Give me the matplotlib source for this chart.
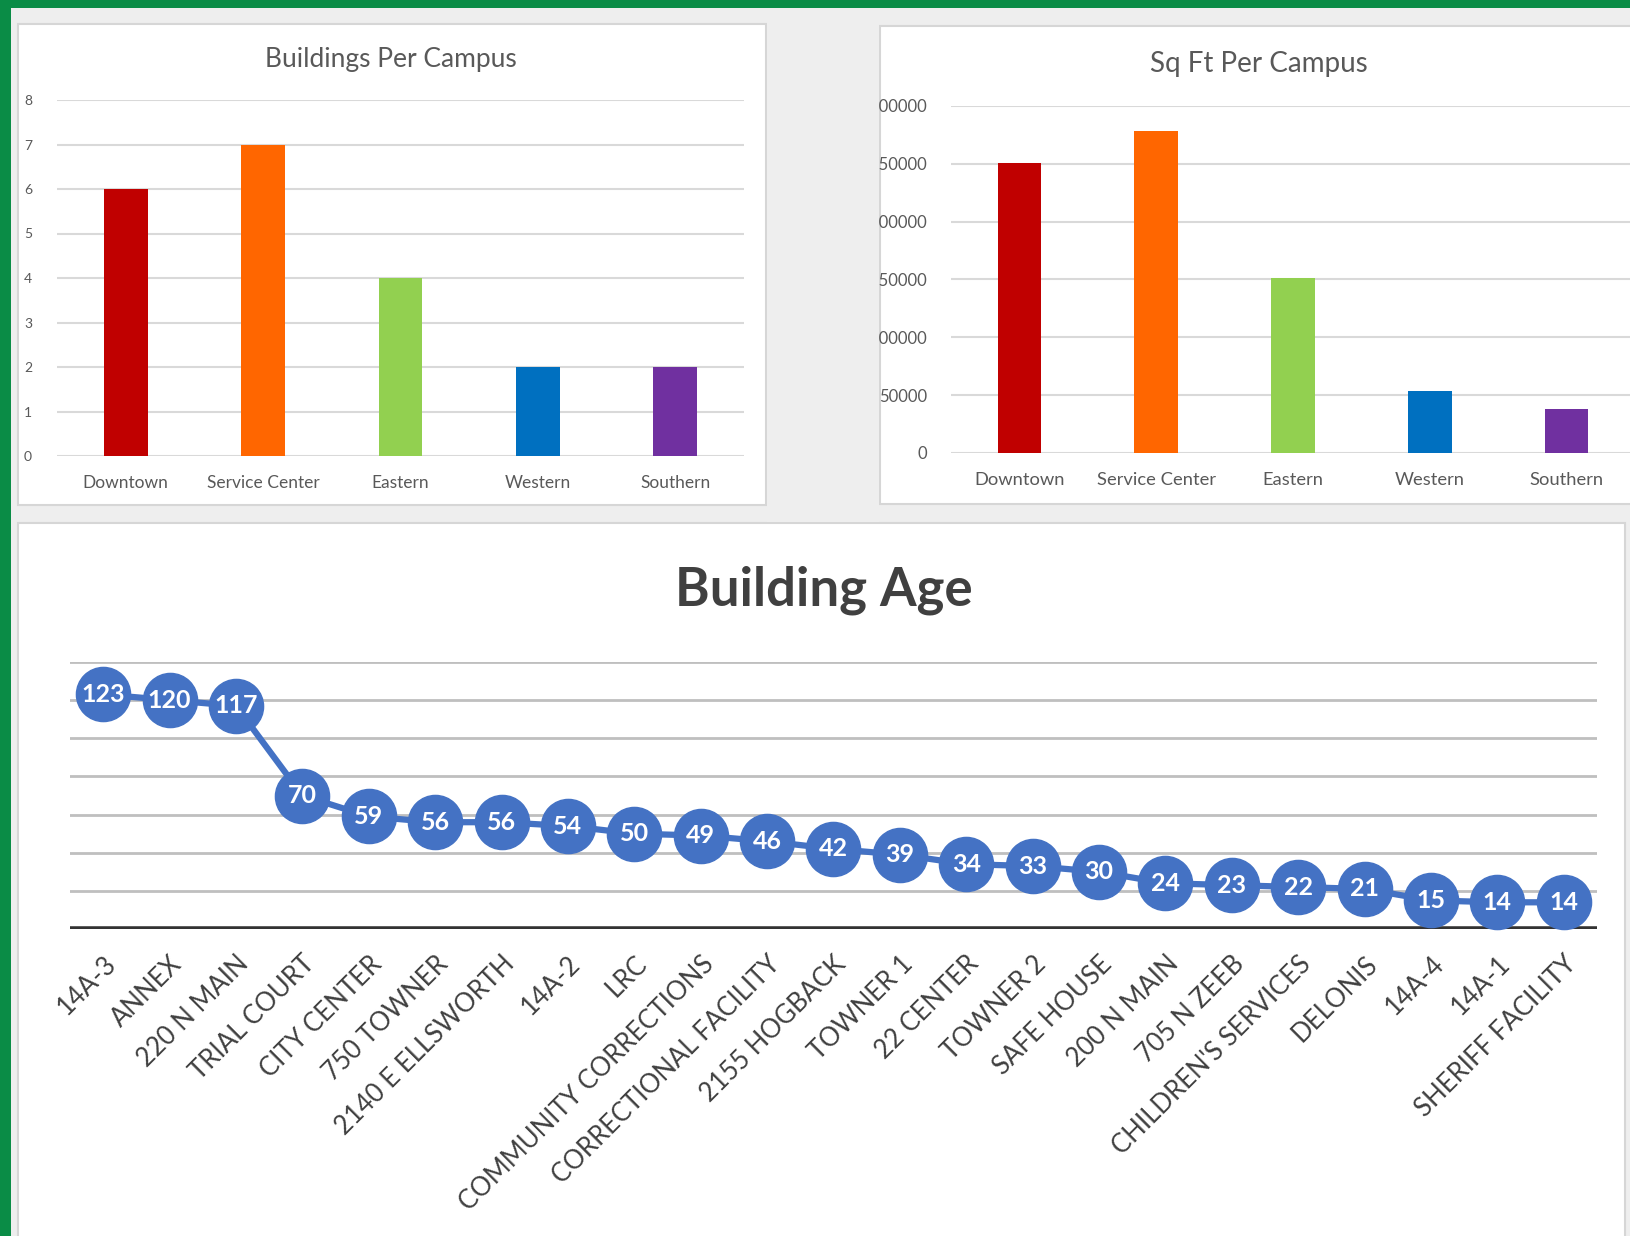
import matplotlib.pyplot as plt
from matplotlib.patches import Rectangle

campuses = ['Downtown', 'Service Center', 'Eastern', 'Western', 'Southern']
buildings_per_campus = [6, 7, 4, 2, 2]
sqft_per_campus = [251000, 278000, 151000, 54000, 38000]
campus_colors = ['#C00000', '#FF6600', '#92D050', '#0070C0', '#7030A0']

buildings = ['14A-3', 'ANNEX', '220 N MAIN', 'TRIAL COURT', 'CITY CENTER',
             '750 TOWNER', '2140 E ELLSWORTH', '14A-2', 'LRC',
             'COMMUNITY CORRECTIONS', 'CORRECTIONAL FACILITY', '2155 HOGBACK',
             'TOWNER 1', '22 CENTER', 'TOWNER 2', 'SAFE HOUSE', '200 N MAIN',
             '705 N ZEEB', "CHILDREN'S SERVICES", 'DELONIS', '14A-4', '14A-1',
             'SHERIFF FACILITY']
ages = [123, 120, 117, 70, 59, 56, 56, 54, 50, 49, 46, 42, 39, 34, 33, 30,
        24, 23, 22, 21, 15, 14, 14]

plt.rcParams['font.family'] = ['Lato', 'DejaVu Sans']

W, H = 1630, 1236
fig = plt.figure(figsize=(W / 100, H / 100), dpi=100)
fig.patch.set_facecolor('#EEEEEE')


def box(x0, y0, x1, y1):
    # pixel box (top-left origin) -> figure fraction rect
    return [x0 / W, 1 - y1 / H, (x1 - x0) / W, (y1 - y0) / H]


def panel(x0, y0, x1, y1, z=0.5):
    r = Rectangle((x0 / W, 1 - y1 / H), (x1 - x0) / W, (y1 - y0) / H,
                  transform=fig.transFigure, facecolor='white',
                  edgecolor='#D6D6D6', linewidth=1.5, zorder=z)
    fig.add_artist(r)


def figrect(x0, y0, x1, y1, color, z):
    r = Rectangle((x0 / W, 1 - y1 / H), (x1 - x0) / W, (y1 - y0) / H,
                  transform=fig.transFigure, facecolor=color,
                  edgecolor='none', zorder=z)
    fig.add_artist(r)


panel(18, 24, 766, 505, z=-2)
panel(880, 26, 1645, 504, z=-2)
panel(18, 523, 1625, 1245, z=-2)

grid_col = '#D9D9D9'
txt_col = '#595959'

# buildings per campus
ax1 = fig.add_axes(box(57, 100, 744, 456))
ax1.patch.set_alpha(0)
ax1.bar(range(len(campuses)), buildings_per_campus, width=0.32,
        color=campus_colors, zorder=3)
ax1.set_xlim(-0.5, len(campuses) - 0.5)
ax1.set_ylim(0, 8)
ax1.set_yticks(range(0, 9))
ax1.set_xticks(range(len(campuses)))
ax1.set_xticklabels(campuses)
ax1.grid(axis='y', color=grid_col, linewidth=1.5, zorder=0)
for s in ax1.spines.values():
    s.set_visible(False)
ax1.tick_params(length=0, colors=txt_col, labelsize=12.5)
ax1.tick_params(axis='y', pad=18, labelsize=10)
ax1.tick_params(axis='x', pad=14)
fig.text(391 / W, 1 - 60 / H, 'Buildings Per Campus', ha='center',
         va='center', fontsize=19, color=txt_col)

# square feet per campus
ax2 = fig.add_axes(box(951, 106, 1635, 453))
ax2.patch.set_alpha(0)
ax2.bar(range(len(campuses)), sqft_per_campus, width=0.32,
        color=campus_colors, zorder=3)
ax2.set_xlim(-0.5, len(campuses) - 0.5)
ax2.set_ylim(0, 300000)
ax2.set_yticks(range(0, 300001, 50000))
ax2.set_yticklabels([str(v) for v in range(0, 300001, 50000)])
ax2.set_xticks(range(len(campuses)))
ax2.set_xticklabels(campuses)
ax2.grid(axis='y', color=grid_col, linewidth=1.5, zorder=0)
for s in ax2.spines.values():
    s.set_visible(False)
ax2.tick_params(axis='y', length=0, colors=txt_col, labelsize=12, pad=17)
ax2.tick_params(axis='x', length=0, colors=txt_col, labelsize=13.2, pad=14)
fig.text(1259 / W, 1 - 64 / H, 'Sq Ft Per Campus', ha='center',
         va='center', fontsize=20, color=txt_col)

# gap between the two top panels hides the cut-off axis labels
figrect(767, 10, 879, 522, '#EEEEEE', 5)

# building age line chart
ax3 = fig.add_axes(box(70, 662, 1597, 929))
ax3.patch.set_alpha(0)
x = range(len(buildings))
ax3.plot(x, ages, color='#4472C4', linewidth=4.5, marker='o', markersize=39,
         markerfacecolor='#4472C4', markeredgecolor='#4472C4',
         clip_on=False, zorder=4)
for i, v in enumerate(ages):
    ax3.text(i, v, str(v), ha='center', va='center', color='white',
             fontsize=18, fontweight='bold', zorder=5)
ax3.set_xlim(-0.5, len(buildings) - 0.5)
ax3.set_ylim(0, 140)
ax3.set_yticks(range(20, 141, 20))
ax3.set_yticklabels([])
ax3.grid(axis='y', color='#BFBFBF', linewidth=2, zorder=0)
ax3.set_xticks(list(x))
ax3.set_xticklabels(buildings, rotation=45, ha='right',
                    rotation_mode='anchor')
for s in ax3.spines.values():
    s.set_visible(False)
ax3.axhline(0, color='#333333', linewidth=4, zorder=2)
ax3.tick_params(length=0, colors='#404040', labelsize=18.5)
ax3.tick_params(axis='x', pad=16)
fig.text(824 / W, 1 - 590 / H, 'Building Age', ha='center', va='center',
         fontsize=38, fontweight='bold', color='#404040')

# green frame along the top and left edges
figrect(0, 0, 11, H, '#0A8C46', 6)
figrect(0, 0, W, 8, '#0A8C46', 6)

fig.savefig('out.png', dpi=100, facecolor=fig.get_facecolor())
